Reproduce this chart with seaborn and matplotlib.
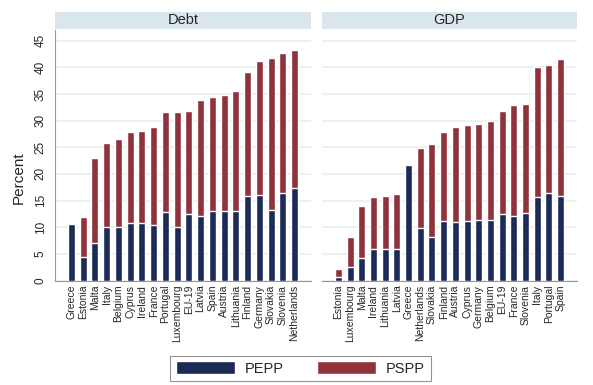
import numpy as np
import pandas as pd
import seaborn as sns
import matplotlib.pyplot as plt
from matplotlib.patches import Patch

# Debt panel
debt_countries = ['Greece', 'Estonia', 'Malta', 'Italy', 'Belgium', 'Cyprus', 'Ireland',
                  'France', 'Portugal', 'Luxembourg', 'EU-19', 'Latvia', 'Spain', 'Austria',
                  'Lithuania', 'Finland', 'Germany', 'Slovakia', 'Slovenia', 'Netherlands']
debt_pepp = [10.6, 4.5, 7.0, 10.1, 10.1, 10.7, 10.7, 10.5, 12.8, 10.1,
             12.4, 12.1, 13.1, 13.1, 13.0, 15.8, 16.1, 13.2, 16.4, 17.3]
debt_pspp = [0.0, 7.4, 15.9, 15.7, 16.4, 17.2, 17.4, 18.3, 18.8, 21.5,
             19.4, 21.7, 21.3, 21.7, 22.5, 23.3, 25.1, 28.5, 26.3, 26.0]

# GDP panel
gdp_countries = ['Estonia', 'Luxembourg', 'Malta', 'Ireland', 'Lithuania', 'Latvia', 'Greece',
                 'Netherlands', 'Slovakia', 'Finland', 'Austria', 'Cyprus', 'Germany',
                 'Belgium', 'EU-19', 'France', 'Slovenia', 'Italy', 'Portugal', 'Spain']
gdp_pepp = [0.75, 2.6, 4.3, 5.9, 5.9, 5.9, 21.7, 9.9, 8.2, 11.2,
            10.9, 11.2, 11.4, 11.4, 12.4, 12.1, 12.7, 15.7, 16.4, 15.8]
gdp_pspp = [1.35, 5.5, 9.7, 9.7, 10.0, 10.4, 0.0, 15.0, 17.5, 16.6,
            17.9, 17.9, 17.9, 18.5, 19.4, 20.9, 20.5, 24.3, 24.1, 25.7]

PEPP_COLOR = '#1c2a56'
PSPP_COLOR = '#90323b'
STRIP_COLOR = '#d9e6eb'
GRID_COLOR = '#e8f0f2'


def make_df(countries, pepp, pspp):
    df = pd.DataFrame({'country': countries, 'PEPP': pepp, 'PSPP': pspp})
    df['total'] = df['PEPP'] + df['PSPP']
    return df


def draw_panel(fig, ax, strip_rect, df, title, show_y):
    # total bar in red, PEPP overlaid in navy -> stacked look
    sns.barplot(data=df, x='country', y='total', color=PSPP_COLOR, width=0.6,
                saturation=1, ax=ax, zorder=2)
    sns.barplot(data=df, x='country', y='PEPP', color=PEPP_COLOR, width=0.6,
                saturation=1, ax=ax, zorder=3)
    ax.set_xlim(-1.4, 20.4)
    ax.set_ylim(0, 47.1)
    ax.set_yticks(np.arange(0, 50, 5))
    ax.yaxis.grid(True, color=GRID_COLOR, linewidth=1.2, zorder=0)
    ax.xaxis.grid(False)
    ax.set_axisbelow(True)
    ax.set_xlabel('')
    ax.set_ylabel('')
    ax.tick_params(axis='x', labelrotation=90, labelsize=7.5, length=0, pad=3)
    for s in ['top', 'right']:
        ax.spines[s].set_visible(False)
    ax.spines['bottom'].set_color('#999999')
    if show_y:
        ax.spines['left'].set_color('#999999')
        ax.tick_params(axis='y', labelsize=8.5, length=3, color='#999999', pad=3)
        for lab in ax.get_yticklabels():
            lab.set_rotation(90)
            lab.set_va('center')
    else:
        ax.spines['left'].set_visible(False)
        ax.tick_params(axis='y', labelleft=False, length=0)
    sax = fig.add_axes(strip_rect)
    sax.set_facecolor(STRIP_COLOR)
    sax.set_xticks([])
    sax.set_yticks([])
    for s in sax.spines.values():
        s.set_visible(False)
    sax.text(0.5, 0.5, title, ha='center', va='center', fontsize=10.5, transform=sax.transAxes)


def main():
    sns.set_style('white')
    plt.rcParams['font.family'] = ['Liberation Sans', 'DejaVu Sans']

    W, H = 593, 385
    fig = plt.figure(figsize=(W / 100, H / 100), dpi=100)

    def rect(x0, y0, x1, y1):
        return [x0 / W, 1 - y1 / H, (x1 - x0) / W, (y1 - y0) / H]

    ax1 = fig.add_axes(rect(55, 29.5, 311, 280.5))
    ax2 = fig.add_axes(rect(322, 29.5, 577, 280.5))

    draw_panel(fig, ax1, rect(55, 12, 311, 29), make_df(debt_countries, debt_pepp, debt_pspp),
               'Debt', True)
    draw_panel(fig, ax2, rect(322, 12, 577, 29), make_df(gdp_countries, gdp_pepp, gdp_pspp),
               'GDP', False)

    fig.text(19 / W, 1 - 178 / H, 'Percent', rotation=90, ha='center', va='center', fontsize=11)

    handles = [Patch(facecolor=PEPP_COLOR, label='PEPP'), Patch(facecolor=PSPP_COLOR, label='PSPP')]
    leg = fig.legend(handles=handles, loc='center', bbox_to_anchor=(300.5 / W, 1 - 368.5 / H),
                     ncol=2, frameon=True, fancybox=False, fontsize=10.5, handlelength=4.0,
                     handleheight=0.95, columnspacing=2.3, handletextpad=0.7,
                     borderpad=0.4, edgecolor='#777777')
    leg.get_frame().set_linewidth(0.8)

    fig.savefig('out.png', dpi=100)
    plt.close(fig)


if __name__ == '__main__':
    main()
